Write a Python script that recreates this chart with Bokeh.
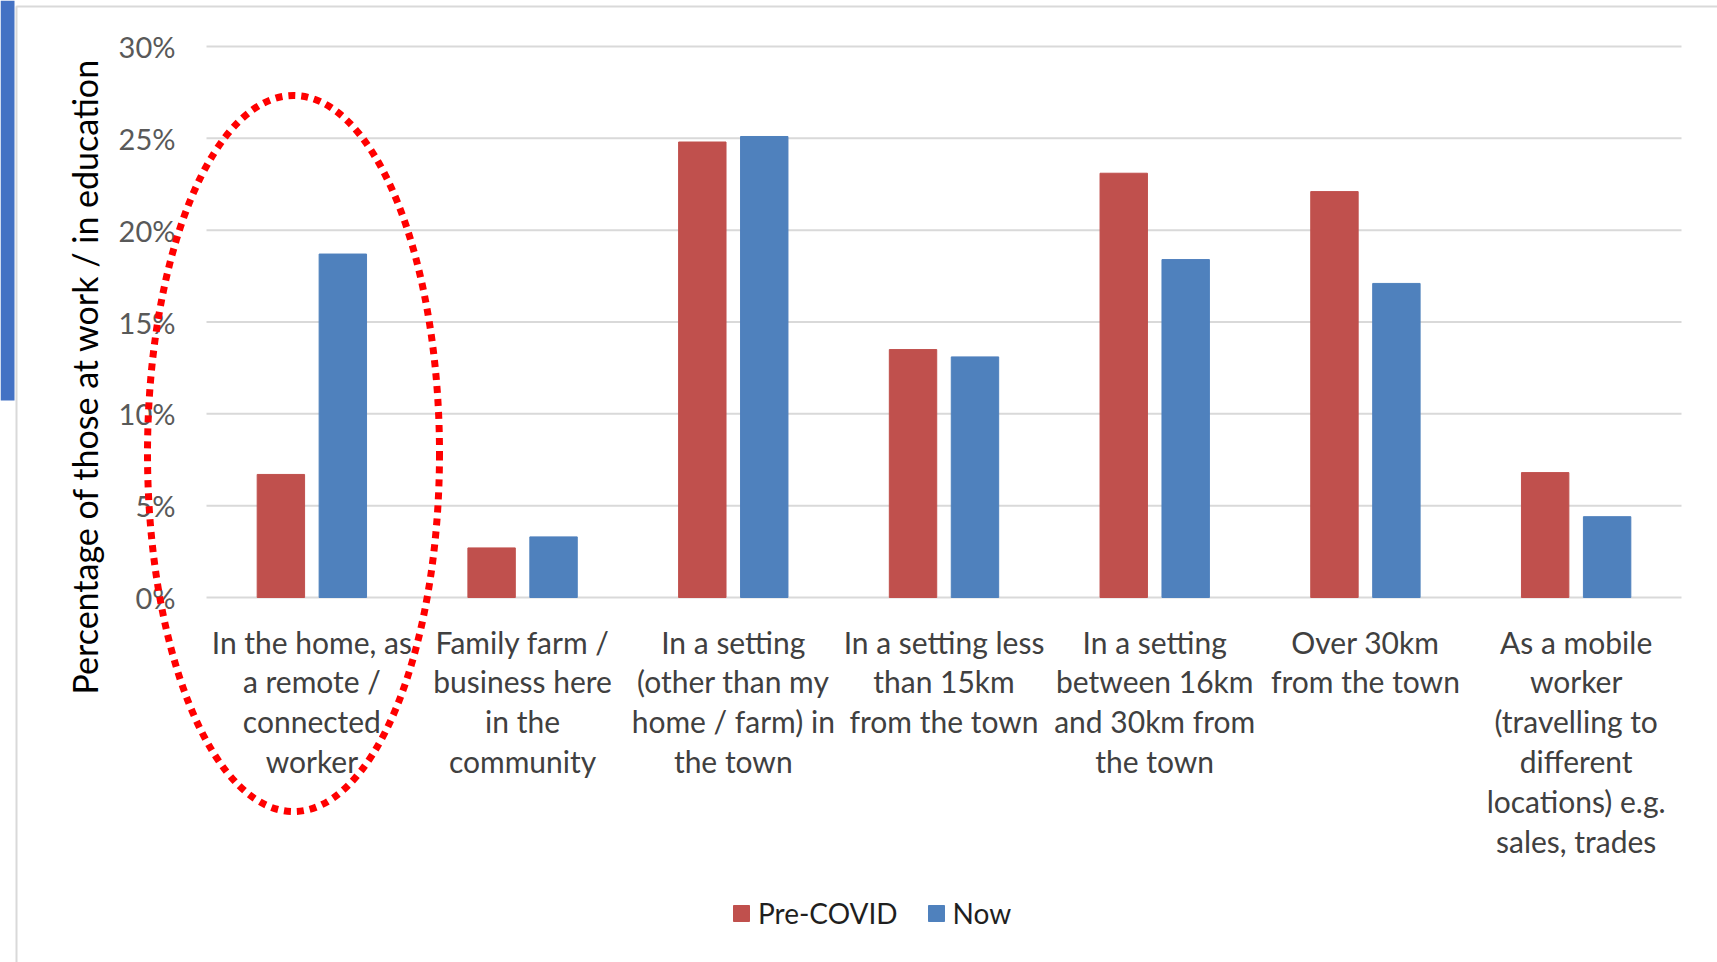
import numpy as np
from bokeh.plotting import figure
from bokeh.models import ColumnDataSource, Range1d, Legend, LegendItem
from bokeh.core.properties import value
from bokeh.transform import dodge
from bokeh.embed import file_html
from bokeh.resources import INLINE

# Where people work / study, before COVID and now
categories = [
    "In the home, as\na remote /\nconnected\nworker",
    "Family farm /\nbusiness here\nin the\ncommunity",
    "In a setting\n(other than my\nhome / farm) in\nthe town",
    "In a setting less\nthan 15km\nfrom the town",
    "In a setting\nbetween 16km\nand 30km from\nthe town",
    "Over 30km\nfrom the town",
    "As a mobile\nworker\n(travelling to\ndifferent\nlocations) e.g.\nsales, trades",
]
pre_covid = [6.7, 2.7, 24.8, 13.5, 23.1, 22.1, 6.8]
now = [18.7, 3.3, 25.1, 13.1, 18.4, 17.1, 4.4]
series_names = ["Pre-COVID", "Now"]
y_ticks = [0, 5, 10, 15, 20, 25, 30]
y_title = "Percentage of those at work / in education"

FONT = "Lato"
W, H = 1717, 962
RED = "#C0504D"
BLUE = "#4F81BD"
GRID = "#D9D9D9"

# plot-area edges on the page (px); the canvas is one big frame so that the
# highlight ring can run over the category labels
AREA_L, AREA_R, AREA_T, AREA_B = 206, 1681, 46, 597
n = len(categories)
x_per_px = n / (AREA_R - AREA_L)
y_per_px = (y_ticks[-1] - y_ticks[0]) / (AREA_B - AREA_T)


def px_x(px):
    return -0.5 + (px - AREA_L) * x_per_px


def px_y(py):
    return y_ticks[0] + (AREA_B - py) * y_per_px


p = figure(
    width=W, height=H,
    x_range=Range1d(px_x(0), px_x(W)),
    y_range=Range1d(px_y(H), px_y(0)),
    x_axis_location=None, y_axis_location=None,
    output_backend="svg", toolbar_location=None,
    min_border=0, min_border_left=0, min_border_right=0,
    min_border_top=0, min_border_bottom=0,
    background_fill_color="white", border_fill_color="white",
)
p.outline_line_color = None
p.grid.grid_line_color = None

# slide decoration: side strip and chart box edge
p.quad(left=[px_x(0)], right=[px_x(14)], top=[px_y(0)], bottom=[px_y(400)],
       fill_color="#4472C4", line_color=None)
p.quad(left=[px_x(16)], right=[px_x(W + 20)], top=[px_y(6)], bottom=[px_y(H + 20)],
       fill_color=None, line_color=GRID, line_width=2)

# horizontal gridlines across the plot area
p.segment(x0=[-0.5] * len(y_ticks), x1=[n - 0.5] * len(y_ticks),
          y0=y_ticks, y1=y_ticks, line_color=GRID, line_width=2)

# y tick labels
p.text(x=[-0.5] * len(y_ticks), y=y_ticks, text=[f"{t}%" for t in y_ticks],
       x_offset=-31, text_align="right", text_baseline="middle",
       text_font=value(FONT), text_font_size="29px", text_color="#595959")

# bars
idx = list(range(n))
source = ColumnDataSource(dict(idx=idx, cat=categories, pre=pre_covid, now=now))
bar_w = 0.225
r_pre = p.vbar(x=dodge("idx", -0.147), top="pre", width=bar_w, bottom=0,
               source=source, fill_color=RED, line_color=RED, line_width=1)
r_now = p.vbar(x=dodge("idx", 0.147), top="now", width=bar_w, bottom=0,
               source=source, fill_color=BLUE, line_color=BLUE, line_width=1)

# category labels under each group
p.text(x="idx", y=0, text="cat", source=source, y_offset=26,
       text_align="center", text_baseline="top", text_line_height=1.11,
       text_font=value(FONT), text_font_size="30px", text_color="#404040")

# y axis title
p.text(x=[px_x(84)], y=[px_y(376)], text=[y_title], angle=np.pi / 2,
       text_align="center", text_baseline="middle",
       text_font=value(FONT), text_font_size="34px", text_color="#000000")

# dotted highlight ring around the first group
p.ellipse(x=[px_x(293)], y=[px_y(453)], width=[292], height=[716],
          width_units="screen", height_units="screen",
          fill_color=None, line_color="#FF0000", line_width=7, line_dash="7 6")

legend = Legend(items=[LegendItem(label=series_names[0], renderers=[r_pre]),
                       LegendItem(label=series_names[1], renderers=[r_now])],
                orientation="horizontal", location=(731, H - 930),
                glyph_width=20, glyph_height=20, label_standoff=7, spacing=28,
                label_text_font=FONT, label_text_font_size="28px", label_text_color="#1F1F1F",
                padding=0, margin=0, border_line_color=None, background_fill_alpha=0)
p.add_layout(legend, "center")

open("out.html", "w").write(file_html(p, INLINE))
